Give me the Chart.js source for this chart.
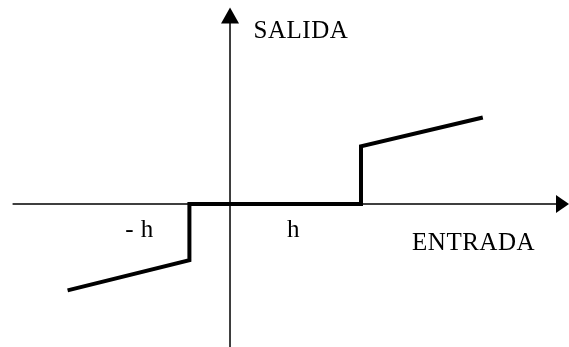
<!DOCTYPE html>
<html lang="es">
<head>
    <meta charset="UTF-8">
    <title>Entrada / Salida</title>
    <script src="https://cdn.jsdelivr.net/npm/chart.js"></script>
    <style>
        body {
            margin: 0;
            background: #fff;
        }
        #caja {
            width: 569px;
            height: 347px;
        }
    </style>
</head>
<body>

    <div id="caja"><canvas id="grafica"></canvas></div>

    <script>
        // Curva de salida (unidades: h = 1)
        const entrada = [-1.24, -0.31, -0.31, 1, 1, 1.93];
        const salida  = [-0.66, -0.43, 0, 0, 0.44, 0.66];

        // Textos de los ejes y marcas
        const etiquetas = ['SALIDA', 'ENTRADA', '- h', 'h'];
        const posEtiquetas = [[0.18, 1.265], [1.39, -0.35], [-0.8, -0.25], [0.435, -0.255]];

        // Limites visibles
        const xMin = -1.756, xMax = 2.588;
        const yMin = -1.092, yMax = 1.557;
        const inicioEjeX = -1.66;
        const topeEjeY = 1.5;

        const puntos = entrada.map((x, i) => ({ x: x, y: salida[i] }));

        // Ejes con flechas y textos
        const ejes = {
            id: 'ejes',
            beforeDatasetsDraw(chart) {
                const c = chart.ctx;
                const sx = chart.scales.x, sy = chart.scales.y;
                const x0 = sx.getPixelForValue(0);
                const y0 = sy.getPixelForValue(0);
                const xa = sx.getPixelForValue(inicioEjeX);
                const xb = sx.getPixelForValue(xMax);
                const ya = sy.getPixelForValue(topeEjeY);
                const yb = sy.getPixelForValue(yMin);

                c.save();
                c.strokeStyle = '#000';
                c.fillStyle = '#000';
                c.lineWidth = 1.5;
                c.beginPath();
                c.moveTo(xa, y0);
                c.lineTo(xb - 10, y0);
                c.moveTo(x0, ya + 10);
                c.lineTo(x0, yb);
                c.stroke();

                // flecha horizontal
                c.beginPath();
                c.moveTo(xb, y0);
                c.lineTo(xb - 13, y0 - 9);
                c.lineTo(xb - 13, y0 + 9);
                c.closePath();
                c.fill();

                // flecha vertical
                c.beginPath();
                c.moveTo(x0, ya);
                c.lineTo(x0 - 9, ya + 16);
                c.lineTo(x0 + 9, ya + 16);
                c.closePath();
                c.fill();

                c.font = '25px "Liberation Serif", "DejaVu Serif", serif';
                c.textBaseline = 'alphabetic';
                c.textAlign = 'left';
                c.letterSpacing = '0.5px';
                etiquetas.forEach((t, i) => {
                    c.fillText(t, sx.getPixelForValue(posEtiquetas[i][0]), sy.getPixelForValue(posEtiquetas[i][1]));
                });
                c.restore();
            }
        };

        const ctx = document.getElementById('grafica').getContext('2d');
        new Chart(ctx, {
            type: 'scatter',
            data: {
                datasets: [{
                    data: puntos,
                    showLine: true,
                    borderColor: '#000',
                    borderWidth: 4,
                    pointRadius: 0,
                    tension: 0,
                    borderJoinStyle: 'miter'
                }]
            },
            options: {
                responsive: true,
                maintainAspectRatio: false,
                animation: false,
                layout: { padding: 0 },
                plugins: {
                    legend: { display: false },
                    tooltip: { enabled: false }
                },
                scales: {
                    x: { type: 'linear', min: xMin, max: xMax, display: false },
                    y: { type: 'linear', min: yMin, max: yMax, display: false }
                }
            },
            plugins: [ejes]
        });
    </script>

</body>
</html>
